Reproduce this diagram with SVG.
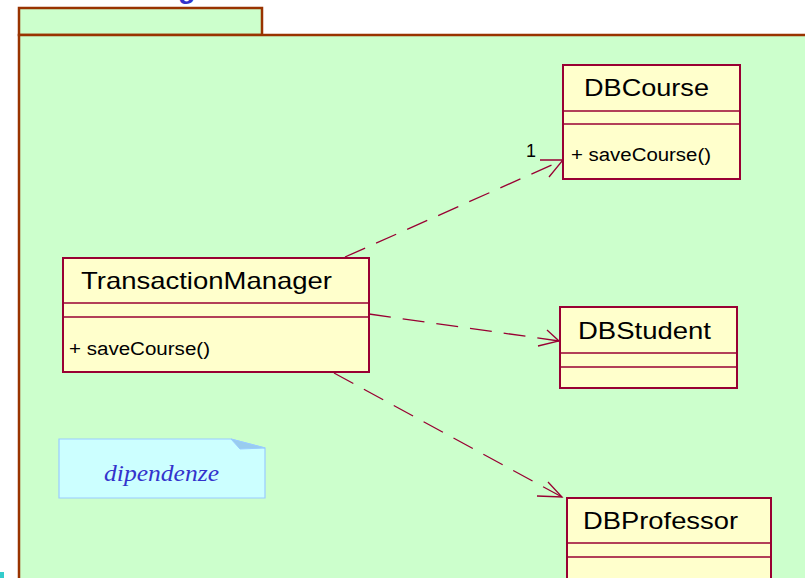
<svg xmlns="http://www.w3.org/2000/svg" width="805" height="578" viewBox="0 0 805 578">
<defs>
<style>
.pkg{fill:#CCFFCC;stroke:#993300;stroke-width:2.5}
.cls{fill:#FFFFCC;stroke:#990033;stroke-width:2}
.sep{stroke:#990033;stroke-width:1.3;fill:none}
.name{font-family:"Liberation Sans",Arial,sans-serif;font-size:24px;fill:#000}
.op{font-family:"Liberation Sans",Arial,sans-serif;font-size:18px;fill:#000}
.dep{stroke:#990033;stroke-width:1.3;fill:none;stroke-dasharray:22 12}
.head{stroke:#990033;stroke-width:1.3;fill:none}
</style>
</defs>
<rect width="805" height="578" fill="#FFFFFF"/>
<text x="180" y="-2" font-family="Liberation Sans,Arial,sans-serif" font-size="28" font-weight="bold" font-style="italic" fill="#3333CC">g</text>
<rect x="0" y="572" width="4" height="6" fill="#33CCCC"/>
<g id="package">
<rect class="pkg" x="19" y="8" width="243" height="27"/>
<rect class="pkg" x="19" y="35" width="800" height="560"/>
</g>
<g id="connectors">
<path class="dep" d="M345,257 L563,160"/>
<path class="head" d="M540,160 L563,160 L549,177"/>
<path class="dep" d="M369,314 L559,341"/>
<path class="head" d="M547,330 L559,341 L538,346"/>
<path class="dep" d="M334,373 L562,497"/>
<path class="head" d="M548,482 L562,497 L537,496"/>
<text class="op" x="526" y="157" textLength="10" lengthAdjust="spacingAndGlyphs">1</text>
</g>
<g id="TransactionManager">
<rect class="cls" x="63" y="258" width="306" height="114"/>
<line class="sep" x1="63" y1="303" x2="369" y2="303"/>
<line class="sep" x1="63" y1="317" x2="369" y2="317"/>
<text class="name" x="81" y="289" textLength="251" lengthAdjust="spacingAndGlyphs">TransactionManager</text>
<text class="op" x="69" y="355" textLength="141" lengthAdjust="spacingAndGlyphs">+ saveCourse()</text>
</g>
<g id="DBCourse">
<rect class="cls" x="563" y="65" width="177" height="114"/>
<line class="sep" x1="563" y1="111" x2="740" y2="111"/>
<line class="sep" x1="563" y1="124" x2="740" y2="124"/>
<text class="name" x="584" y="96" textLength="125" lengthAdjust="spacingAndGlyphs">DBCourse</text>
<text class="op" x="571" y="161" textLength="140" lengthAdjust="spacingAndGlyphs">+ saveCourse()</text>
</g>
<g id="DBStudent">
<rect class="cls" x="560" y="307" width="177" height="81"/>
<line class="sep" x1="560" y1="353" x2="737" y2="353"/>
<line class="sep" x1="560" y1="367" x2="737" y2="367"/>
<text class="name" x="578" y="339" textLength="133" lengthAdjust="spacingAndGlyphs">DBStudent</text>
</g>
<g id="DBProfessor">
<rect class="cls" x="567" y="498" width="204" height="100"/>
<line class="sep" x1="567" y1="543" x2="771" y2="543"/>
<line class="sep" x1="567" y1="557" x2="771" y2="557"/>
<text class="name" x="583" y="529" textLength="155" lengthAdjust="spacingAndGlyphs">DBProfessor</text>
</g>
<g id="note">
<path d="M59,439 L231,439 L265,448 L265,498 L59,498 Z" fill="#CCFFFF" stroke="#99CCFF" stroke-width="1.2"/>
<path d="M231,439 L240,449 L265,448 Z" fill="#99CCEE" stroke="#99CCFF" stroke-width="1"/>
<text x="104" y="481" font-family="Liberation Serif,Times New Roman,serif" font-style="italic" font-size="24" fill="#3333CC" textLength="115" lengthAdjust="spacingAndGlyphs">dipendenze</text>
</g>
</svg>
